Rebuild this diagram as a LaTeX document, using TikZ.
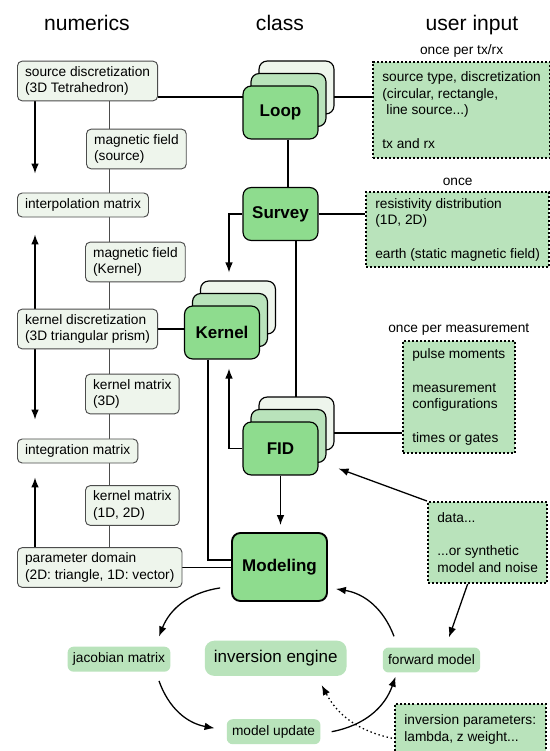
\documentclass[tikz,border=0pt]{standalone}
\usepackage{fontspec}
\setmainfont{Liberation Sans}
\usepackage{tikz}
\usetikzlibrary{arrows.meta,backgrounds,positioning,calc,shadows}

\definecolor{palegreen}{HTML}{EEF5EC}
\definecolor{midgreen}{HTML}{B9E3BB}
\definecolor{boxgreen}{HTML}{8EDC8E}

\newcommand{\boxfont}{\fontsize{11.7}{14.2}\selectfont}
\newcommand{\classfont}{\fontsize{14.5}{17}\selectfont\bfseries}
\newcommand{\headfont}{\fontsize{18}{21}\selectfont}

\tikzset{
  numbox/.style={draw=black!70, line width=0.8pt, fill=palegreen, rounded corners=4pt,
    align=left, anchor=west, inner xsep=6.5pt, inner ysep=4.4pt, minimum height=20.5pt},
  classbox/.style={draw=black, line width=1pt, fill=boxgreen, rounded corners=7pt,
    font=\classfont, minimum width=64pt, minimum height=45.2pt},
  stackbox/.style={classbox,
    general shadow={shadow xshift=0.48cm, shadow yshift=0.75cm, fill=palegreen, draw=black},
    general shadow={shadow xshift=0.24cm, shadow yshift=0.375cm, fill=midgreen, draw=black}},
  userbox/.style={draw=black, line width=1.71pt, dash pattern=on 1.71pt off 1.71pt,
    fill=midgreen, align=left, anchor=west, inner xsep=8pt},
  note/.style={inner sep=0pt},
  cyclebox/.style={fill=midgreen, rounded corners=5pt, inner xsep=4.5pt, minimum height=21.3pt},
  link/.style={draw=black, line width=1pt},
  numlink/.style={draw=black!70, line width=0.8pt},
  arr/.style={link, line width=1.1pt, -{Latex[length=3mm,width=2.3mm]}},
  dotarr/.style={arr, dash pattern=on 1.2pt off 2.4pt}
}

\begin{document}
\begin{tikzpicture}[x=0.03cm, y=-0.03cm, font=\boxfont]
\useasboundingbox (0,0) rectangle (549,751);

\node[anchor=base, font=\headfont] (numhead) at (87,30) {numerics};
\node[anchor=base, font=\headfont] (classhead) at (280,30) {class};
\node[anchor=base, font=\headfont] (userhead) at (472,30) {user input};

% numerics
\node[numbox] (src) at (17,81) {source discretization\\(3D Tetrahedron)};
\node[numbox] (magsrc) at (86,149) {magnetic field\\(source)};
\node[numbox] (interp) at (17,205) {interpolation matrix};
\node[numbox] (magker) at (85,262) {magnetic field\\(Kernel)};
\node[numbox] (kerdisc) at (17,329) {kernel discretization\\(3D triangular prism)};
\node[numbox] (kmat3) at (85,394) {kernel matrix\\(3D)};
\node[numbox] (integ) at (17,451) {integration matrix};
\node[numbox] (kmat12) at (85,505.5) {kernel matrix\\(1D, 2D)};
\node[numbox] (param) at (17,567.5) {parameter domain\\(2D: triangle, 1D: vector)};

% class
\node[stackbox] (loop) at (280.5,112.5) {Loop};
\node[classbox] (survey) at (280.5,214) {Survey};
\node[stackbox] (kernel) at (222,332.5) {Kernel};
\node[stackbox] (fid) at (280.5,448.5) {FID};
\node[classbox, line width=1.6pt, minimum width=81pt, minimum height=58pt] (modeling) at (279.5,567) {Modeling};

% user input
\node[userbox, minimum height=81.9pt] (tx) at (372,110)
  {source type, discretization\\(circular, rectangle,\\\hspace{3.5pt}line source...)\\[14.2pt]tx and rx};
\node[userbox, minimum height=64pt] (earth) at (365,229.5)
  {resistivity distribution\\(1D, 2D)\\[14.2pt]earth (static magnetic field)};
\node[userbox, minimum height=95.6pt] (meas) at (402,397)
  {pulse moments\\[14.2pt]measurement\\configurations\\[14.2pt]times or gates};
\node[userbox, minimum height=69.1pt] (data) at (427,542.5)
  {data...\\[14.2pt]...or synthetic\\model and noise};
\node[userbox, minimum height=43.5pt] (invpar) at (394,729.7)
  {inversion parameters:\\lambda, z weight...};

\node[note, above=3pt of tx] (txnote) {once per tx/rx};
\node[note, above=4pt of earth] (earthnote) {once};
\node[note, above=3.5pt of meas] (measnote) {once per measurement};

% inversion loop
\node[cyclebox] (jac) at (119,659.2) {jacobian matrix};
\node[cyclebox] (upd) at (273.6,731.7) {model update};
\node[cyclebox] (fwd) at (431.5,660) {forward model};
\node[cyclebox, rounded corners=8pt, inner xsep=7.7pt, minimum height=30pt,
  font=\fontsize{14.5}{17}\selectfont] (engine) at (275.7,658.3) {inversion engine};

\begin{scope}[on background layer]
\fill[white] (0,0) rectangle (549,751);

\draw[numlink] ($(src.south west)+(92,0)$) -- ($(param.north west)+(92,0)$);
\draw[arr] ($(src.south west)+(18,0)$) -- ($(interp.north west)+(18,-19)$);
\draw[arr] ($(kerdisc.north west)+(18,0)$) -- ($(interp.south west)+(18,17)$);
\draw[arr] ($(kerdisc.south west)+(18,0)$) -- ($(integ.north west)+(18,-19)$);
\draw[arr] ($(param.north west)+(18,0)$) -- ($(integ.south west)+(18,14)$);

\draw[link] ($(src.east)+(0,16)$) -- ($(tx.west)+(0,-13)$);
\draw[link] ($(loop.south)+(7.5,0)$) -- ($(survey.north)+(7.5,0)$);
\draw[link] (survey.east) -- (survey.east -| earth.west);
\draw[link] ($(survey.south)+(15.5,0)$) -- ($(fid.north)+(15.5,0)$);
\draw[link] (kerdisc.east) -- (kerdisc.east -| kernel.west);
\draw[link] ($(kernel.south)+(-14,0)$) |- ($(modeling.west)+(0,-7)$);
\draw[link] (param.east) -- (param.east -| modeling.west);
\draw[link] ($(fid.east)+(0,-15.5)$) -- ($(meas.west |- fid.east)+(0,-15.5)$);

\draw[arr] (survey.west) -| ($(kernel.north)+(7,-33)$);
\draw[arr] (fid.west) -| ($(kernel.south)+(7,9)$);
\draw[arr, shorten >=0.21cm] (fid.south) -- (fid.south |- modeling.north);
\draw[arr] (data.north west) -- ($(fid.south east)+(20,-7)$);
\draw[arr] ($(data.south)+(-20,0)$) -- ($(fwd.north)+(17.5,-10)$);

\draw[arr] ($(modeling.south west)+(-11,-14)$) to[bend right=30] ($(jac.north)+(40,-10)$);
\draw[arr] ($(jac.south)+(40,9)$) to[bend right=30] ($(upd.west)+(-12,-3.5)$);
\draw[arr] ($(upd.east)+(11,0)$) to[bend right=30] ($(fwd.south)+(-36,4)$);
\draw[arr] ($(fwd.north)+(-37.5,-11)$) to[bend right=30] ($(modeling.south east)+(8,-13)$);
\draw[dotarr] ($(invpar.west)+(-2,8.5)$) to[bend left=25] ($(engine.south)+(46,9)$);
\end{scope}
\end{tikzpicture}
\end{document}
